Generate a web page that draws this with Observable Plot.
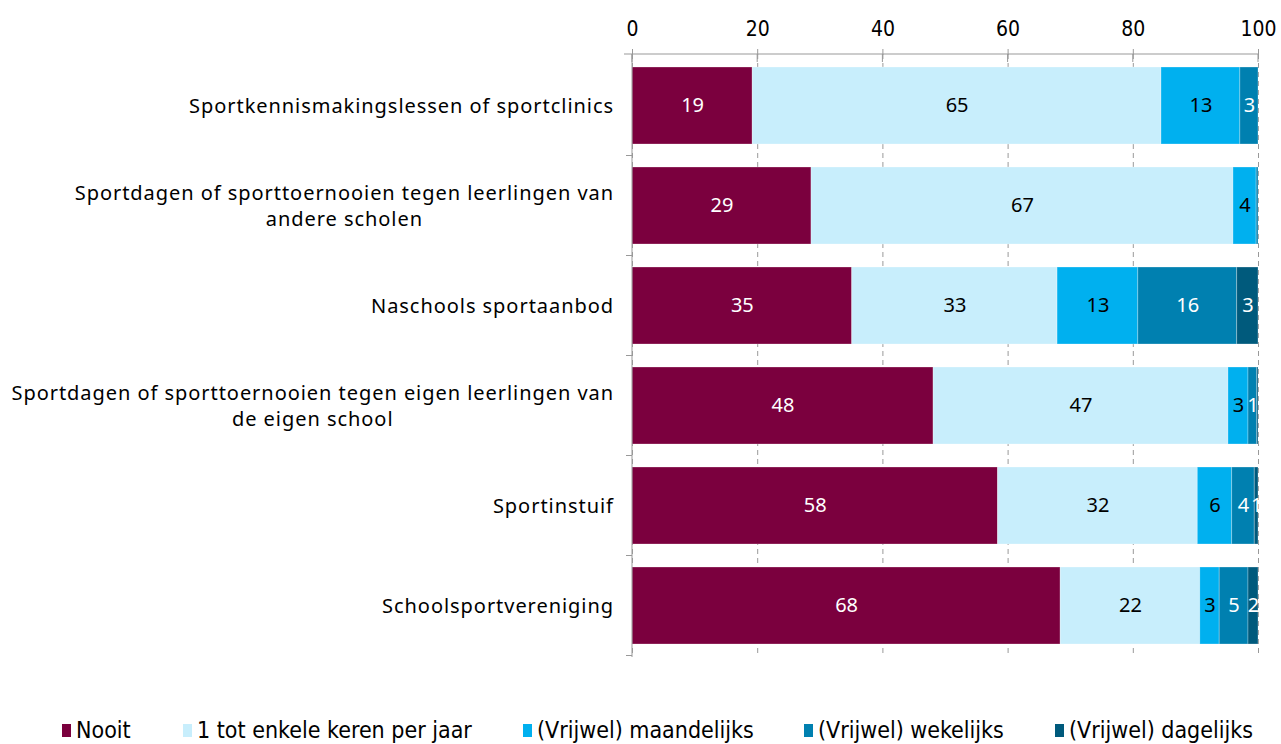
<!DOCTYPE html>
<html>
<head>
<meta charset="utf-8">
<script src="https://cdn.jsdelivr.net/npm/d3@7"></script>
<script src="https://cdn.jsdelivr.net/npm/@observablehq/plot@0.6"></script>
<style>
  body { margin: 0; background: #fff; font-family: "Noto Sans", sans-serif; overflow: hidden; }
  #wrap { position: relative; width: 1281px; height: 744px; }
  #legend { position: absolute; left: 0; top: 717px; width: 1281px; height: 27px; font-family: "DejaVu Sans", sans-serif; font-stretch: condensed; font-size: 23px; line-height: 27px; color: #000; }
  #legend .item { position: absolute; top: 0; display: flex; align-items: center; white-space: nowrap; }
  #legend .sw { width: 9px; height: 13px; margin-right: 5px; }
</style>
</head>
<body>
<div id="wrap">
<div id="chart"></div>
<div id="legend"></div>
</div>
<script>
const categories = [
  "Sportkennismakingslessen of sportclinics",
  "Sportdagen of sporttoernooien tegen leerlingen van\nandere scholen",
  "Naschools sportaanbod",
  "Sportdagen of sporttoernooien tegen eigen leerlingen van\nde eigen school",
  "Sportinstuif",
  "Schoolsportvereniging"
];
const seriesNames = ["Nooit", "1 tot enkele keren per jaar", "(Vrijwel) maandelijks", "(Vrijwel) wekelijks", "(Vrijwel) dagelijks"];
const colors = ["#7b003e", "#c8eefc", "#00b0ef", "#0080b0", "#005a7c"];
const labelColors = ["white", "black", "black", "white", "white"];
const nooit       = [19.2, 28.6, 35.1, 48.1, 58.4, 68.4];
const perJaar     = [65.3, 67.4, 32.8, 47.1, 31.9, 22.3];
const maandelijks = [12.6, 3.7, 12.9, 3.2, 5.5, 3.1];
const wekelijks   = [2.9, 0.3, 15.8, 1.4, 3.6, 4.6];
const dagelijks   = [0.0, 0.0, 3.4, 0.2, 0.6, 1.6];
const xTicks = [0, 20, 40, 60, 80, 100];

const series = [nooit, perJaar, maandelijks, wekelijks, dagelijks];
const data = [];
categories.forEach((c, i) => {
  series.forEach((s, k) => {
    data.push({cat: c, series: seriesNames[k], k, value: s[i]});
  });
});

const chart = Plot.plot({
  width: 1281,
  height: 690,
  marginLeft: 632,
  marginRight: 23,
  marginTop: 54,
  marginBottom: 33,
  style: {fontFamily: "Noto Sans, sans-serif", fontSize: "19px", color: "#000", background: "white", overflow: "visible"},
  x: {domain: [0, 100], axis: null, label: null},
  y: {domain: categories, paddingInner: 0.23, paddingOuter: 0.115, axis: null, label: null},
  color: {domain: seriesNames, range: colors},
  marks: [
    Plot.ruleX(xTicks, {x: d => d, stroke: "#999", strokeWidth: 1, strokeDasharray: "5,4"}),
    Plot.barX(data, Plot.stackX({x: "value", y: "cat", fill: "series", order: seriesNames, stroke: "white", strokeOpacity: 0.35, strokeWidth: 0.8})),
    Plot.text(data.filter(d => Math.round(d.value) > 0), Plot.stackX({
      x: "value", y: "cat", order: seriesNames, z: "series",
      text: d => String(Math.round(d.value)),
      fill: d => labelColors[d.k],
      fontSize: 20, letterSpacing: 2, textAnchor: "middle"
    })),
    Plot.axisX(xTicks, {anchor: "top", label: null, tickSize: 6, tickPadding: 13, fontSize: 21, stroke: "#999", fontFamily: "DejaVu Sans, sans-serif", tickFormat: d => String(d)})
  ]
});
document.getElementById("chart").appendChild(chart);
d3.select(chart).selectAll("g[aria-label='x-axis tick label'] text").style("font-stretch", "condensed");

// decorations: axis lines, band boundary ticks, category labels
const svg = d3.select(chart);
const xs = chart.scale("x");
const ys = chart.scale("y");
const x0 = xs.apply(0), x100 = xs.apply(100);
const yTop = ys.range[0];
const yBottom = ys.range[1];
const g = svg.append("g").attr("stroke", "#999").attr("stroke-width", 1);
g.append("line").attr("x1", x0 - 8).attr("x2", x100).attr("y1", yTop).attr("y2", yTop);
g.append("line").attr("x1", x0).attr("x2", x0).attr("y1", yTop).attr("y2", yBottom);
xTicks.forEach(t => {
  g.append("line").attr("x1", xs.apply(t)).attr("x2", xs.apply(t)).attr("y1", yTop).attr("y2", yTop + 8);
});
categories.forEach(c => {
  const b = ys.apply(c) + ys.bandwidth + (ys.step - ys.bandwidth) / 2;
  g.append("line").attr("x1", x0 - 6).attr("x2", x0).attr("y1", b).attr("y2", b);
});
const lg = svg.append("g").attr("font-family", "Noto Sans, sans-serif").attr("font-size", 20).attr("fill", "#000");
categories.forEach(c => {
  const lines = c.split("\n");
  const cy = ys.apply(c) + ys.bandwidth / 2;
  const lh = 26;
  const t = lg.append("text").attr("text-anchor", "middle").attr("letter-spacing", "0.95px");
  lines.forEach((ln, i) => {
    t.append("tspan").attr("x", 0).attr("y", cy + (i - (lines.length - 1) / 2) * lh).attr("dy", "0.35em").text(ln);
  });
  const w = t.node().getBBox().width;
  t.attr("transform", `translate(${x0 - 18 - w / 2},0)`);
});

// legend
const legend = document.getElementById("legend");
const lx = [62, 183, 523, 804, 1055];
seriesNames.forEach((n, i) => {
  const it = document.createElement("div");
  it.className = "item";
  it.style.left = lx[i] + "px";
  it.innerHTML = `<span class="sw" style="background:${colors[i]}"></span><span>${n}</span>`;
  legend.appendChild(it);
});
</script>
</body>
</html>
